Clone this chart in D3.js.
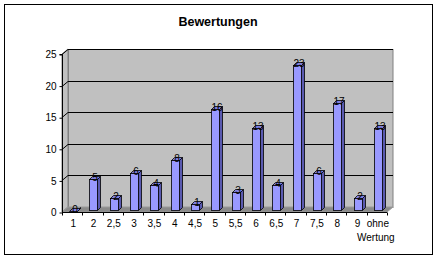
<!DOCTYPE html>
<html><head><meta charset="utf-8">
<script src="https://cdn.jsdelivr.net/npm/d3@7"></script>
<style>body{margin:0;background:#fff}svg{display:block;font-family:Arial,"Liberation Sans",sans-serif}</style>
</head><body>
<script>
const title = "Bewertungen";
const categories = ["1","2","2,5","3","3,5","4","4,5","5","5,5","6","6,5","7","7,5","8","9","ohne Wertung"];
const values = [0,5,2,6,4,8,1,16,3,13,4,23,6,17,2,13];
const yTicks = [0,5,10,15,20,25];

const W = 438, H = 260;
const svg = d3.select("body").append("svg").attr("width", W).attr("height", H);
svg.append("rect").attr("x",4.5).attr("y",4.5).attr("width",428).attr("height",250)
  .attr("fill","#fff").attr("stroke","#000");

svg.append("text").attr("x",218).attr("y",26).attr("text-anchor","middle")
  .attr("font-size",12.5).attr("font-weight","bold").text(title);

const x = d3.scaleBand().domain(categories).range([62,387]);
const y = d3.scaleLinear().domain([0,25]).range([212,54]);
const dx = 6, dy = 5;
const L = 62, R = 387;

// side wall
svg.append("path").attr("d",`M${L},${y(0)}L${L},${y(25)}L${L+dx},${y(25)-dy}L${L+dx},${y(0)-dy}Z`)
  .attr("fill","#c0c0c0").attr("stroke","#808080");
// back wall
svg.append("rect").attr("x",L+dx+0.5).attr("y",y(25)-dy+0.5).attr("width",R-L-0.5).attr("height",y(0)-y(25))
  .attr("fill","#c0c0c0").attr("stroke","#808080");
// floor
svg.append("path").attr("d",`M${L},${y(0)}L${L+dx},${y(0)-dy}L${R+dx},${y(0)-dy}L${R},${y(0)}Z`)
  .attr("fill","#8a8a8a").attr("stroke","#9a9a9a");

// gridlines
yTicks.filter(t=>t>0).forEach(t=>{
  svg.append("path").attr("d",`M${L},${Math.round(y(t))+0.5}L${L+dx},${Math.round(y(t)-dy)+0.5}L${R+dx},${Math.round(y(t)-dy)+0.5}`)
    .attr("fill","none").attr("stroke","#000");
});

// y axis
const yAxis = d3.axisLeft(y).tickValues(yTicks).tickSize(3).tickPadding(3);
const ga = svg.append("g").attr("transform",`translate(${L+0.5},0.5)`).call(yAxis);
ga.selectAll("text").attr("font-size",10).attr("font-family","Arial,'Liberation Sans',sans-serif");
ga.select(".domain").attr("d",`M-3,${y(25)}H0V${y(0)}`);

// x axis
const gx = svg.append("g").attr("transform",`translate(0,${y(0)+0.5})`);
gx.append("line").attr("x1",L).attr("x2",R).attr("stroke","#000");
categories.forEach((c,i)=>{
  const xx = Math.round(x(c)+x.bandwidth())+0.5;
  gx.append("line").attr("x1",xx).attr("x2",xx).attr("y1",0).attr("y2",3).attr("stroke","#000");
});
gx.append("line").attr("x1",L+0.5).attr("x2",L+0.5).attr("y1",0).attr("y2",3).attr("stroke","#000");
categories.forEach(c=>{
  const cx = x(c)+x.bandwidth()/2;
  const t = gx.append("text").attr("text-anchor","middle").attr("font-size",10);
  const parts = c.split(" ");
  parts.forEach((p,k)=>t.append("tspan").attr("x",cx+(k?-1:1)).attr("y",14+k*14).text(p));
});

// bars
const bw = 8, bd = 3;
values.forEach((v,i)=>{
  const c = categories[i];
  const x0 = Math.round(x(c)+x.bandwidth()/2 - bw/2 + 1)+0.5;
  const yb = y(0)-1.5;
  const yt = Math.round(y(v)-1.5)+0.5;
  const g = svg.append("g").attr("stroke","#000").attr("stroke-width",0.8);
  g.append("path").attr("d",`M${x0+bw},${yb}L${x0+bw},${yt}L${x0+bw+bd},${yt-bd}L${x0+bw+bd},${yb-bd}Z`).attr("fill","#5a5ab0");
  g.append("path").attr("d",`M${x0},${yt}L${x0+bd},${yt-bd}L${x0+bw+bd},${yt-bd}L${x0+bw},${yt}Z`).attr("fill","#8080e0");
  g.append("rect").attr("x",x0).attr("y",yt).attr("width",bw).attr("height",Math.max(0,yb-yt)).attr("fill","#9999ff");
  svg.append("text").attr("x",x0+bw/2+1.5).attr("y",yt+1).attr("text-anchor","middle")
    .attr("font-size",10).text(v);
});
</script>
</body></html>
